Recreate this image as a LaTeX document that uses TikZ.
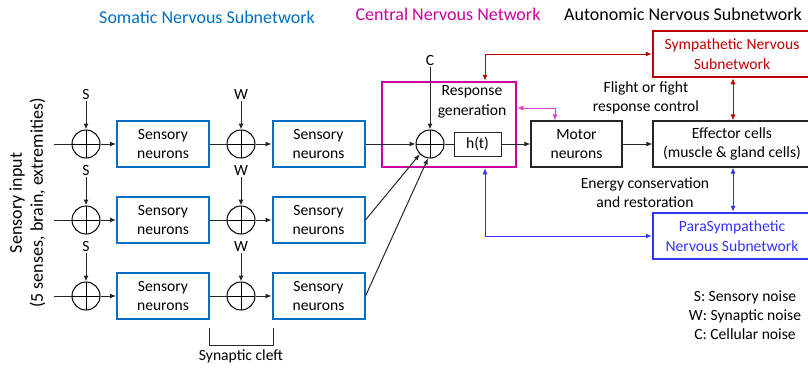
\documentclass[tikz,border=0pt]{standalone}
\usepackage{fontspec}
\setmainfont{Carlito}
\usetikzlibrary{arrows.meta,calc}
\definecolor{sblue}{HTML}{0070C0}
\definecolor{cmag}{HTML}{CC00A0}
\definecolor{lmag}{HTML}{E040C0}
\definecolor{sred}{HTML}{C00000}
\definecolor{pblue}{HTML}{3333FF}
\begin{document}
\begin{tikzpicture}[x=1pt,y=-1pt,
  >={Latex[length=6pt,width=5pt]},
  body/.style={font=\fontsize{15.6}{19.5}\selectfont, align=center},
  title/.style={font=\fontsize{18}{21}\selectfont},
  sensbox/.style={draw=sblue, line width=2pt, minimum width=92pt, minimum height=46pt, body, inner sep=0pt},
  blkbox/.style={draw=black!85, line width=1.1pt, minimum height=46pt, body, inner sep=0pt},
  sumc/.style={circle, draw=black, line width=1pt, minimum size=28pt, inner sep=0pt,
    path picture={\draw[line width=0.9pt] (path picture bounding box.north) -- (path picture bounding box.south)
      (path picture bounding box.west) -- (path picture bounding box.east);}},
  wire/.style={line width=1pt, draw=black!85},
  noiselbl/.style={body, inner sep=0pt}
]
\useasboundingbox (0,0) rectangle (808,367);

% titles
\node[title, text=sblue] (t1) at (207,17) {Somatic Nervous Subnetwork};
\node[title, text=cmag] (t2) at (448,14) {Central Nervous Network};
\node[title, text=black] (t3) at (683,14) {Autonomic Nervous Subnetwork};

% vertical input label
\node[font=\fontsize{18}{21}\selectfont, align=center, rotate=90] (inlbl) at (27.5,203) {Sensory input\\(5 senses, brain, extremities)};

% rows
\foreach \r/\y in {1/144,2/220,3/296}{
  \coordinate (in\r) at (54,\y);
  \node[sumc] (sa\r) at (86,\y) {};
  \node[sensbox] (ba\r) at (163,\y) {Sensory\\neurons};
  \node[sumc] (sb\r) at (241,\y) {};
  \node[sensbox] (bb\r) at (318.5,\y) {Sensory\\neurons};
  \node[noiselbl] (ns\r) at (86,\y-50) {S};
  \node[noiselbl] (nw\r) at (241,\y-50) {W};
  \draw[wire] (in\r) -- (sa\r.west);
  \draw[wire,->] (sa\r.east) -- (ba\r.west);
  \draw[wire] (ba\r.east) -- (sb\r.west);
  \draw[wire,->] (sb\r.east) -- (bb\r.west);
  \draw[wire,->] (ns\r.south) ++(0,2) -- (sa\r.north);
  \draw[wire,->] (nw\r.south) ++(0,2) -- (sb\r.north);
}

% central nervous network
\node[draw=cmag, line width=2.5pt, minimum width=134pt, minimum height=85pt, inner sep=0pt] (cnn) at (449,124.5) {};
\node[body] (resp) at (472,102) {Response\\generation};
\node[sumc] (cs) at (430,144) {};
\node[draw=black!85, line width=1pt, minimum width=47pt, minimum height=24pt, body, inner sep=0pt] (ht) at (477.5,144) {h(t)};
\node[noiselbl] (nc) at (430,60) {C};
\draw[wire,->] (nc.south) ++(0,2) -- (cs.north);
\draw[wire,->] (bb1.east) -- (cs.west);
\draw[wire,->] (bb2.east) -- (cs.225);
\draw[wire,->] (bb3.east) -- (cs.262);
\draw[wire] (cs.east) -- (ht.west);

% motor, effector
\node[blkbox, minimum width=91pt] (motor) at (576.5,144) {Motor\\neurons};
\node[blkbox, minimum width=158pt] (eff) at (732,144) {Effector cells\\(muscle \& gland cells)};
\draw[wire,->] (ht.east) -- (motor.west);
\draw[wire,->] (motor.east) -- (eff.west);

% sympathetic / parasympathetic
\node[draw=sred, line width=2.5pt, minimum width=158pt, minimum height=46pt, body, text=sred, inner sep=0pt] (symp) at (732,54) {Sympathetic Nervous\\Subnetwork};
\node[draw=pblue, line width=2.5pt, minimum width=158pt, minimum height=46pt, body, text=pblue, inner sep=0pt] (para) at (732,236) {ParaSympathetic\\Nervous Subnetwork};

\coordinate (rtop) at (485,54);
\draw[sred, line width=1pt, <->] (cnn.north -| rtop) -- (rtop) -- (symp.west);
\draw[sred, line width=1pt, <->] (symp.south -| 733,0) -- (eff.north -| 733,0);

\coordinate (bbot) at (485,236);
\draw[pblue, line width=1pt, <->] (cnn.south -| bbot) -- (bbot) -- (para.west);
\draw[pblue, line width=1pt, <->] (eff.south -| 733,0) -- (para.north -| 733,0);

\coordinate (mk) at (555,108);
\draw[lmag, line width=1pt, <->] (cnn.east |- mk) -- (mk) -- (motor.north -| mk);

\node[body] (flight) at (646,98) {Flight or fight\\response control};
\node[body] (energy) at (645,192.5) {Energy conservation\\and restoration};

% legend
\node[body, font=\fontsize{15.6}{19}\selectfont] (legend) at (745,315) {S: Sensory noise\\W: Synaptic noise\\C: Cellular noise};

% synaptic cleft
\coordinate (cl1) at (209,328);
\coordinate (cl2) at (273,328);
\draw[wire] (cl1) -- ++(0,17) -| (cl2);
\node[body] (cleft) at (241,356) {Synaptic cleft};
\end{tikzpicture}
\end{document}
